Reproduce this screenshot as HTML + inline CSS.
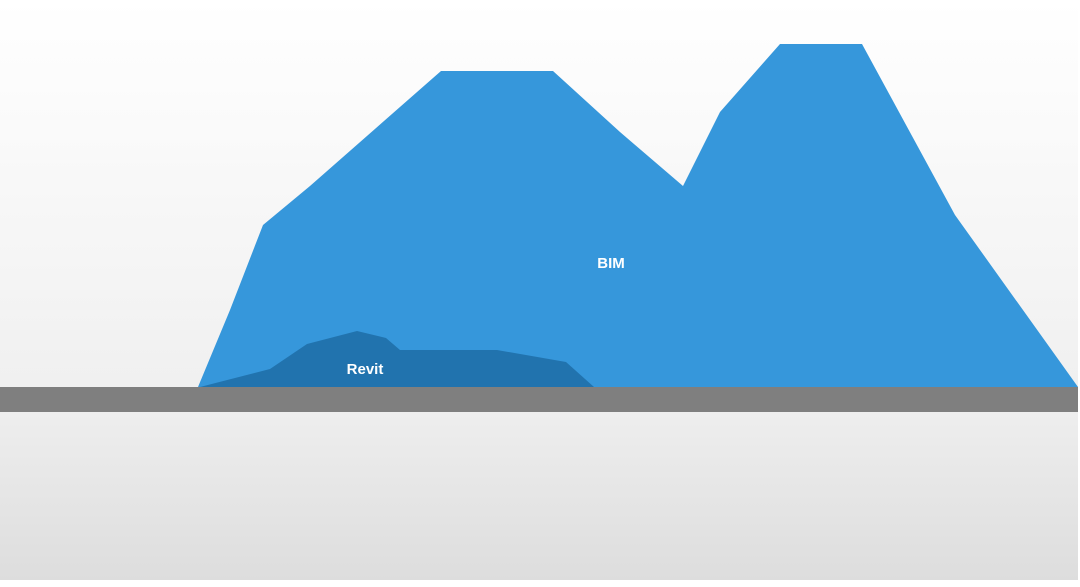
<!DOCTYPE html>
<html><head><style>
html,body{margin:0;padding:0;}
body{width:1080px;height:582px;overflow:hidden;background:#fff;}
</style></head><body>
<svg width="1080" height="582" xmlns="http://www.w3.org/2000/svg">
<defs>
<linearGradient id="top" x1="0" y1="0" x2="0" y2="1">
<stop offset="0" stop-color="#ffffff"/><stop offset="1" stop-color="#f0f0f0"/>
</linearGradient>
<linearGradient id="bot" x1="0" y1="0" x2="0" y2="1">
<stop offset="0" stop-color="#eeeeee"/><stop offset="1" stop-color="#dddddd"/>
</linearGradient>
</defs>
<rect x="0" y="0" width="1078" height="387" fill="url(#top)"/>
<rect x="0" y="412" width="1078" height="168" fill="url(#bot)"/>
<polygon points="198,387 230,310 263,225 310,186 441,71 553,71 620,132 683,186 720,112 780,44 862,44 955,215 1078,387" fill="#3697db"/>
<polygon points="200,387 270,369 307,344 357,331 386,338 400,350 497,350 566,362 594,387" fill="#2173ae"/>
<rect x="0" y="387" width="1078" height="25" fill="#7f7f7f"/>
<text x="365" y="374" font-family="Liberation Sans, sans-serif" font-weight="bold" font-size="15" fill="#fff" text-anchor="middle">Revit</text>
<text x="611" y="268" font-family="Liberation Sans, sans-serif" font-weight="bold" font-size="15" fill="#fff" text-anchor="middle">BIM</text>
</svg>
</body></html>
